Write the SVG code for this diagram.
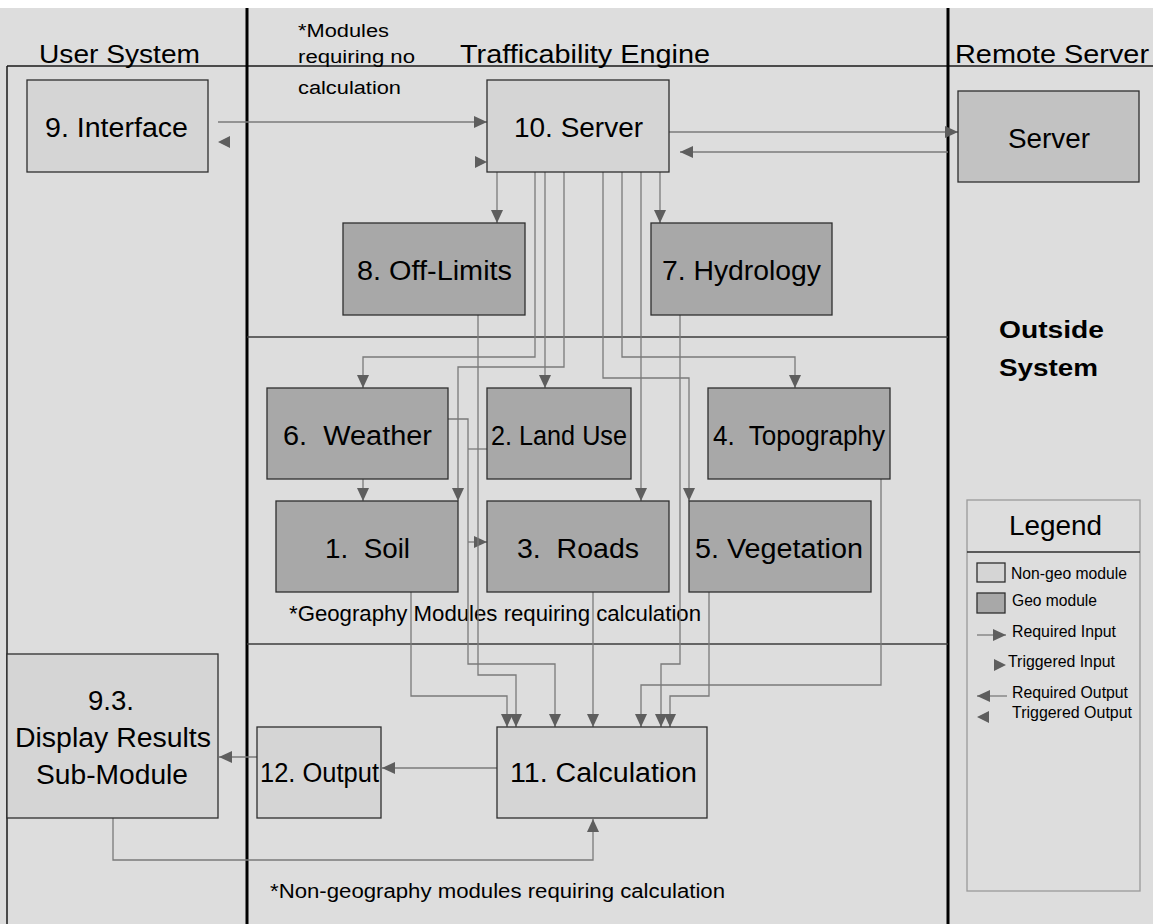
<svg xmlns="http://www.w3.org/2000/svg" xmlns:xlink="http://www.w3.org/1999/xlink" width="1153" height="924" viewBox="0 0 1153 924">
  <style>
    text { font-family: "Liberation Sans", Arial, sans-serif; fill: #000; }
    .hdr { font-size: 25px; }
    .lbl { font-size: 27px; }
    .note { font-size: 18px; }
    .note2 { font-size: 22px; }
    .note3 { font-size: 20px; }
    .bold { font-size: 23px; font-weight: bold; }
    .leg { font-size: 16px; }
    .plain { fill: #d5d5d5; stroke: #2e2e2e; stroke-width: 1.3; }
    .geo { fill: #a8a8a8; stroke: #2e2e2e; stroke-width: 1.3; }
    .remote { fill: #c2c2c2; stroke: #2e2e2e; stroke-width: 1.3; }
    .lane { stroke: #000; stroke-width: 3; fill: none; }
    .rule { stroke: #1a1a1a; stroke-width: 1.5; fill: none; }
    .sect { stroke: #3c3c3c; stroke-width: 1.3; fill: none; }
    .wire { stroke: #7a7a7a; stroke-width: 1.3; fill: none; }
    .arr { marker-end: url(#ah); }
    .head { fill: #5e5e5e; }
  </style>
  <defs>
    <marker id="ah" viewBox="0 0 13 12" refX="13" refY="6" markerWidth="13" markerHeight="12" markerUnits="userSpaceOnUse" orient="auto">
      <path d="M0,0 L13,6 L0,12 z" fill="#5e5e5e"/>
    </marker>
    <!-- bare arrowhead, tip at origin, pointing right -->
    <path id="tri" d="M0,0 L-12,-6 L-12,6 z"/>
  </defs>

  <!-- page -->
  <rect x="0" y="0" width="1153" height="924" fill="#ffffff"/>
  <rect x="0" y="8" width="1153" height="916" fill="#dddddd"/>

  <!-- swimlanes -->
  <g id="lanes">
    <path class="rule" d="M7,66 H1153 M7,66 V924"/>
    <path class="lane" d="M247,8 V924 M948,8 V924"/>
    <path class="sect" d="M247,337 H948 M247,644 H948"/>
    <text class="hdr" x="39" y="63" textLength="161" lengthAdjust="spacingAndGlyphs">User System</text>
    <text class="hdr" x="460" y="63" textLength="250" lengthAdjust="spacingAndGlyphs">Trafficability Engine</text>
    <text class="hdr" x="955" y="63" textLength="194" lengthAdjust="spacingAndGlyphs">Remote Server</text>
    <text class="note" x="298" y="37" textLength="91" lengthAdjust="spacingAndGlyphs">*Modules</text>
    <text class="note" x="298" y="63" textLength="117" lengthAdjust="spacingAndGlyphs">requiring no</text>
    <text class="note" x="298" y="94" textLength="103" lengthAdjust="spacingAndGlyphs">calculation</text>
    <text class="note2" x="289" y="621" textLength="412" lengthAdjust="spacingAndGlyphs">*Geography Modules requiring calculation</text>
    <text class="note3" x="270" y="898" textLength="455" lengthAdjust="spacingAndGlyphs">*Non-geography modules requiring calculation</text>
    <text class="bold" x="999" y="338" textLength="105" lengthAdjust="spacingAndGlyphs">Outside</text>
    <text class="bold" x="999" y="376" textLength="99" lengthAdjust="spacingAndGlyphs">System</text>
  </g>

  <!-- connectors -->
  <g id="connectors">
    <path class="wire arr" d="M218,122 H487"/>
    <path class="wire arr" d="M669,132 H958"/>
    <path class="wire arr" d="M948,152 H680"/>
    <path class="wire arr" d="M497,172 V223"/>
    <path class="wire arr" d="M535,172 V357 H363 V388"/>
    <path class="wire arr" d="M545,172 V388"/>
    <path class="wire arr" d="M564,172 V367 H458 V501"/>
    <path class="wire arr" d="M603,172 V378 H689 V501"/>
    <path class="wire arr" d="M622,172 V357 H795 V388"/>
    <path class="wire arr" d="M641,172 V501"/>
    <path class="wire arr" d="M660,172 V223"/>
    <path class="wire arr" d="M363,479 V501"/>
    <path class="wire arr" d="M448,419 H468 V664 H555 V727"/>
    <path class="wire" d="M487,449 H468"/>
    <path class="wire arr" d="M468,542 H487"/>
    <path class="wire arr" d="M478,315 V675 H516 V727"/>
    <path class="wire arr" d="M411,592 V696 H507 V727"/>
    <path class="wire arr" d="M593,592 V727"/>
    <path class="wire arr" d="M680,315 V664 H661 V727"/>
    <path class="wire arr" d="M709,592 V696 H670 V727"/>
    <path class="wire arr" d="M881,479 V685 H641 V727"/>
    <path class="wire arr" d="M497,768 H382"/>
    <path class="wire arr" d="M257,757 H219"/>
    <path class="wire arr" d="M113,818 V860 H593 V819"/>
    <use xlink:href="#tri" class="head" transform="translate(218,142) rotate(180)"/>
    <use xlink:href="#tri" class="head" transform="translate(487,162)"/>
  </g>

  <!-- modules -->
  <g id="n9-interface">
    <rect class="plain" x="27" y="80" width="181" height="92"/>
    <text class="lbl" x="45" y="137" textLength="143" lengthAdjust="spacingAndGlyphs">9. Interface</text>
  </g>
  <g id="n10-server">
    <rect class="plain" x="487" y="80" width="182" height="92"/>
    <text class="lbl" x="514" y="137" textLength="129" lengthAdjust="spacingAndGlyphs">10. Server</text>
  </g>
  <g id="remote-server">
    <rect class="remote" x="958" y="91" width="181" height="91"/>
    <text class="lbl" x="1008" y="148" textLength="82" lengthAdjust="spacingAndGlyphs">Server</text>
  </g>
  <g id="n8-off-limits">
    <rect class="geo" x="343" y="223" width="182" height="92"/>
    <text class="lbl" x="357" y="280" textLength="155" lengthAdjust="spacingAndGlyphs">8. Off-Limits</text>
  </g>
  <g id="n7-hydrology">
    <rect class="geo" x="651" y="223" width="181" height="92"/>
    <text class="lbl" x="662" y="280" textLength="159" lengthAdjust="spacingAndGlyphs">7. Hydrology</text>
  </g>
  <g id="n6-weather">
    <rect class="geo" x="267" y="388" width="181" height="91"/>
    <text class="lbl" x="283" y="445" textLength="149" lengthAdjust="spacingAndGlyphs" xml:space="preserve">6.  Weather</text>
  </g>
  <g id="n2-land-use">
    <rect class="geo" x="487" y="388" width="144" height="91"/>
    <text class="lbl" x="491" y="445" textLength="136" lengthAdjust="spacingAndGlyphs">2. Land Use</text>
  </g>
  <g id="n4-topography">
    <rect class="geo" x="708" y="388" width="182" height="91"/>
    <text class="lbl" x="713" y="445" textLength="172" lengthAdjust="spacingAndGlyphs" xml:space="preserve">4.  Topography</text>
  </g>
  <g id="n1-soil">
    <rect class="geo" x="276" y="501" width="182" height="91"/>
    <text class="lbl" x="325" y="558" textLength="85" lengthAdjust="spacingAndGlyphs" xml:space="preserve">1.  Soil</text>
  </g>
  <g id="n3-roads">
    <rect class="geo" x="487" y="501" width="182" height="91"/>
    <text class="lbl" x="517" y="558" textLength="122" lengthAdjust="spacingAndGlyphs" xml:space="preserve">3.  Roads</text>
  </g>
  <g id="n5-vegetation">
    <rect class="geo" x="689" y="501" width="182" height="91"/>
    <text class="lbl" x="695" y="558" textLength="168" lengthAdjust="spacingAndGlyphs">5. Vegetation</text>
  </g>
  <g id="n9-3-display">
    <rect class="plain" x="7" y="654" width="211" height="164"/>
    <text class="lbl" x="88" y="710" textLength="46" lengthAdjust="spacingAndGlyphs">9.3.</text>
    <text class="lbl" x="15" y="747" textLength="196" lengthAdjust="spacingAndGlyphs">Display Results</text>
    <text class="lbl" x="36" y="784" textLength="152" lengthAdjust="spacingAndGlyphs">Sub-Module</text>
  </g>
  <g id="n12-output">
    <rect class="plain" x="257" y="727" width="124" height="91"/>
    <text class="lbl" x="260" y="782" textLength="119" lengthAdjust="spacingAndGlyphs">12. Output</text>
  </g>
  <g id="n11-calculation">
    <rect class="plain" x="497" y="727" width="210" height="91"/>
    <text class="lbl" x="510" y="782" textLength="187" lengthAdjust="spacingAndGlyphs">11. Calculation</text>
  </g>

  <!-- key -->
  <g id="legend">
    <rect x="967" y="500" width="173" height="391" fill="none" stroke="#9a9a9a" stroke-width="1.3"/>
    <path d="M967,552 H1140" stroke="#2e2e2e" stroke-width="1.5"/>
    <text class="lbl" x="1009" y="535" textLength="93" lengthAdjust="spacingAndGlyphs">Legend</text>
    <rect class="plain" x="977" y="563" width="28" height="19"/>
    <text class="leg" x="1011" y="579" textLength="116" lengthAdjust="spacingAndGlyphs">Non-geo module</text>
    <rect class="geo" x="977" y="593" width="28" height="20"/>
    <text class="leg" x="1012" y="606" textLength="85" lengthAdjust="spacingAndGlyphs">Geo module</text>
    <path class="wire arr" d="M977,635 H1006"/>
    <text class="leg" x="1012" y="637" textLength="104" lengthAdjust="spacingAndGlyphs">Required Input</text>
    <use xlink:href="#tri" class="head" transform="translate(1006,665)"/>
    <text class="leg" x="1008" y="667" textLength="107" lengthAdjust="spacingAndGlyphs">Triggered Input</text>
    <path class="wire arr" d="M1007,696 H977"/>
    <text class="leg" x="1012" y="698" textLength="116" lengthAdjust="spacingAndGlyphs">Required Output</text>
    <use xlink:href="#tri" class="head" transform="translate(977,717) rotate(180)"/>
    <text class="leg" x="1012" y="718" textLength="120" lengthAdjust="spacingAndGlyphs">Triggered Output</text>
  </g>
</svg>
